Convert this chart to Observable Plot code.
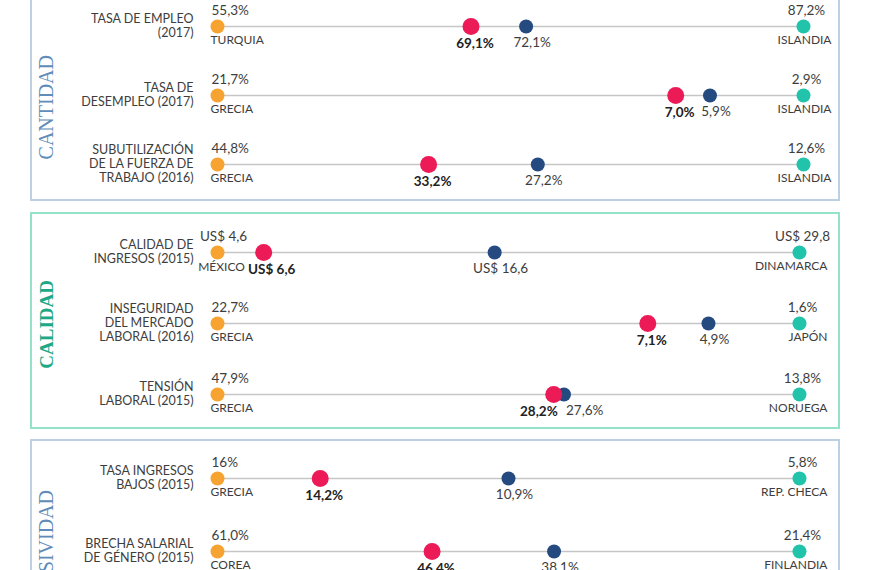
<!DOCTYPE html>
<html>
<head>
<meta charset="utf-8">
<script src="https://cdn.jsdelivr.net/npm/d3@7"></script>
<script src="https://cdn.jsdelivr.net/npm/@observablehq/plot@0.6"></script>
<style>
  html, body { margin: 0; padding: 0; background: #fff; }
  body { width: 870px; height: 570px; overflow: hidden; position: relative; font-family: Lato, sans-serif; }
  .panel { position: absolute; left: 30px; width: 806px; border: 2px solid #bcd0e4; }
  .panel.calidad { border-color: #93e2c9; }
  .panel svg { display: block; }
  .titulo { position: absolute; left: 46px; white-space: nowrap; font-family: "Liberation Serif", "DejaVu Serif", serif;
            line-height: 1; transform-origin: 0 0; transform: rotate(-90deg) translate(-100%, -50%); }
</style>
</head>
<body>
<script>
// ---- Data ----
const indicadores = [
  "TASA DE EMPLEO\n(2017)",
  "TASA DE\nDESEMPLEO (2017)",
  "SUBUTILIZACIÓN\nDE LA FUERZA DE\nTRABAJO (2016)",
  "CALIDAD DE\nINGRESOS (2015)",
  "INSEGURIDAD\nDEL MERCADO\nLABORAL (2016)",
  "TENSIÓN\nLABORAL (2015)",
  "TASA INGRESOS\nBAJOS (2015)",
  "BRECHA SALARIAL\nDE GÉNERO (2015)"
];
const dimensiones = ["CANTIDAD", "CANTIDAD", "CANTIDAD", "CALIDAD", "CALIDAD", "CALIDAD", "INCLUSIVIDAD", "INCLUSIVIDAD"];
const unidades = ["%", "%", "%", "US$", "%", "%", "%", "%"];

const peorPais  = ["TURQUIA", "GRECIA", "GRECIA", "MÉXICO", "GRECIA", "GRECIA", "GRECIA", "COREA"];
const peorValor = [55.3, 21.7, 44.8, 4.6, 22.7, 47.9, 16, 61.0];
const peorTexto = ["55,3%", "21,7%", "44,8%", "US$ 4,6", "22,7%", "47,9%", "16%", "61,0%"];

const mejorPais  = ["ISLANDIA", "ISLANDIA", "ISLANDIA", "DINAMARCA", "JAPÓN", "NORUEGA", "REP. CHECA", "FINLANDIA"];
const mejorValor = [87.2, 2.9, 12.6, 29.8, 1.6, 13.8, 5.8, 21.4];
const mejorTexto = ["87,2%", "2,9%", "12,6%", "US$ 29,8", "1,6%", "13,8%", "5,8%", "21,4%"];

const chileValor = [69.1, 7.0, 33.2, 6.6, 7.1, 28.2, 14.2, 46.4];
const chileTexto = ["69,1%", "7,0%", "33,2%", "US$ 6,6", "7,1%", "28,2%", "14,2%", "46,4%"];

const ocdeValor = [72.1, 5.9, 27.2, 16.6, 4.9, 27.6, 10.9, 38.1];
const ocdeTexto = ["72,1%", "5,9%", "27,2%", "US$ 16,6", "4,9%", "27,6%", "10,9%", "38,1%"];

const tabla = indicadores.map((ind, i) => ({
  ind, dim: dimensiones[i], unidad: unidades[i],
  peor: peorValor[i], peorPais: peorPais[i], peorTxt: peorTexto[i],
  mejor: mejorValor[i], mejorPais: mejorPais[i], mejorTxt: mejorTexto[i],
  chile: chileValor[i], chileTxt: chileTexto[i],
  ocde: ocdeValor[i], ocdeTxt: ocdeTexto[i]
}));

// position on each row: 0 = worst country, 1 = best country
const sc = (d, v) => (v - d.peor) / (d.mejor - d.peor);
const cerca = d => Math.abs(sc(d, d.chile) - sc(d, d.ocde)) < 0.05;
const izq = d => sc(d, d.chile) < 0.1;

const C = { linea: "#c6c6c6", peor: "#f6a331", mejor: "#22c3ab", ocde: "#244a80", chile: "#ec1b57", texto: "#3d3d3d" };

function dibujar(dim, cfg) {
  const filas = tabla.filter(d => d.dim === dim);
  const xP = d => sc(d, d.peor), xM = d => sc(d, d.mejor), xO = d => sc(d, d.ocde), xC = d => sc(d, d.chile);
  const base = { y: "ind", fill: C.texto };
  return Plot.plot({
    width: 806, height: cfg.h,
    marginLeft: 185, marginRight: cfg.mr, marginTop: cfg.mt, marginBottom: cfg.mb,
    x: { domain: [0, 1], axis: null },
    y: { type: "point", domain: filas.map(d => d.ind), padding: 0, axis: null },
    style: { fontFamily: "Lato, sans-serif", background: "#fff", color: C.texto, overflow: "visible" },
    marks: [
      Plot.ruleY(filas, { y: "ind", x1: xP, x2: xM, stroke: C.linea, strokeWidth: 1.6 }),
      Plot.text(filas, { ...base, text: "ind", frameAnchor: "left", textAnchor: "end", dx: -24, dy: -1, lineHeight: 1.1, fontSize: 12.5 }),
      Plot.dot(filas, { x: xP, y: "ind", r: 7, fill: C.peor }),
      Plot.dot(filas, { x: xM, y: "ind", r: 7, fill: C.mejor }),
      Plot.dot(filas, { x: xO, y: "ind", r: 7, fill: C.ocde }),
      Plot.dot(filas, { x: xC, y: "ind", r: 8.5, fill: C.chile }),
      // worst country
      Plot.text(filas.filter(d => d.unidad !== "US$"), { ...base, x: xP, text: "peorTxt", textAnchor: "start", dx: -6, dy: -16, fontSize: 13.5 }),
      Plot.text(filas.filter(d => d.unidad !== "US$"), { ...base, x: xP, text: "peorPais", textAnchor: "start", dx: -7, dy: 14, fontSize: 12 }),
      Plot.text(filas.filter(d => d.unidad === "US$"), { ...base, x: xP, text: "peorTxt", textAnchor: "middle", dx: 6, dy: -16, fontSize: 13.5 }),
      Plot.text(filas.filter(d => d.unidad === "US$"), { ...base, x: xP, text: "peorPais", textAnchor: "middle", dx: 4, dy: 15, fontSize: 12 }),
      // best country
      Plot.text(filas, { ...base, x: xM, text: "mejorTxt", textAnchor: "middle", dx: 3, dy: -16, fontSize: 13.5 }),
      Plot.text(filas, { ...base, x: xM, text: "mejorPais", textAnchor: "end", dx: 28, dy: 14, fontSize: 12 }),
      // OECD
      Plot.text(filas.filter(d => !cerca(d)), { ...base, x: xO, text: "ocdeTxt", textAnchor: "middle", dx: 6, dy: 16, fontSize: 13.5 }),
      Plot.text(filas.filter(d => cerca(d)), { ...base, x: xO, text: "ocdeTxt", textAnchor: "start", dx: 2, dy: 16, fontSize: 13.5 }),
      // Chile
      Plot.text(filas.filter(d => !cerca(d) && !izq(d)), { ...base, x: xC, text: "chileTxt", textAnchor: "middle", dx: 4, dy: 17.5, fontSize: 13.5, fontWeight: "bold", fill: "#222" }),
      Plot.text(filas.filter(d => cerca(d)), { ...base, x: xC, text: "chileTxt", textAnchor: "end", dx: 4, dy: 17.5, fontSize: 13.5, fontWeight: "bold", fill: "#222" }),
      Plot.text(filas.filter(d => izq(d)), { ...base, x: xC, text: "chileTxt", textAnchor: "middle", dx: 8, dy: 17.5, fontSize: 13.5, fontWeight: "bold", fill: "#222" })
    ]
  });
}

function panel(dim, clase, top, cfg) {
  const div = document.createElement("div");
  div.className = "panel " + clase;
  div.style.top = top + "px";
  div.appendChild(dibujar(dim, cfg));
  document.body.appendChild(div);
}

function titulo(txt, top, color, size, weight) {
  const t = document.createElement("div");
  t.className = "titulo";
  t.textContent = txt;
  t.style.top = top + "px";
  t.style.color = color;
  t.style.fontSize = size + "px";
  t.style.fontWeight = weight;
  document.body.appendChild(t);
}

panel("CANTIDAD", "", -10, { h: 207, mt: 34, mb: 35, mr: 35 });
panel("CALIDAD", "calidad", 212, { h: 213, mt: 37, mb: 33, mr: 39 });
panel("INCLUSIVIDAD", "", 439, { h: 230, mt: 37, mb: 120, mr: 39 });

titulo("CANTIDAD", 55, "#5f8cb8", 20, "normal");
titulo("CALIDAD", 280, "#1ea886", 19, "bold");
titulo("INCLUSIVIDAD", 490, "#5f8cb8", 20, "normal");
</script>
</body>
</html>
